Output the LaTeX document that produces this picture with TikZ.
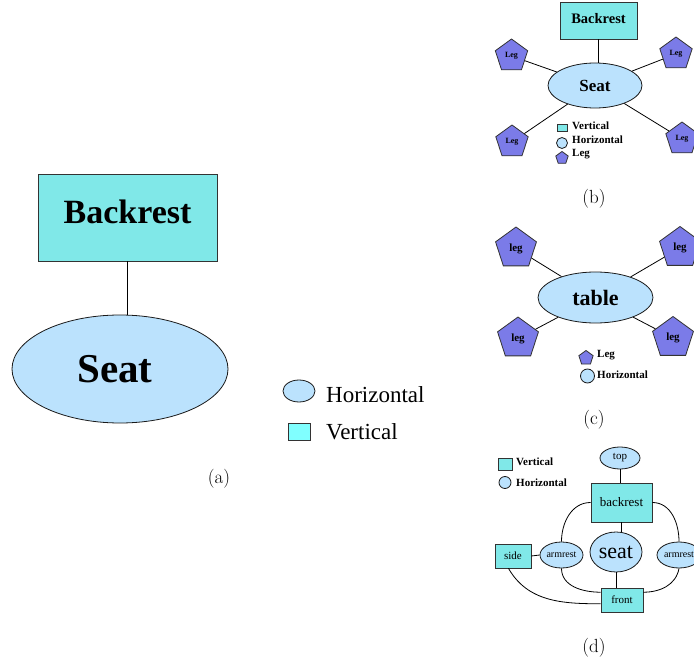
\documentclass[tikz,border=0pt]{standalone}
\usepackage{fontspec}
\newfontfamily\tms{Liberation Serif}
\usetikzlibrary{shapes.geometric}
\definecolor{vert}{HTML}{80E8E8}
\definecolor{vertleg}{HTML}{80FFFF}
\definecolor{horiz}{HTML}{BBE2FD}
\definecolor{legc}{HTML}{7B7BE8}
\tikzset{
  vbox/.style={draw=black!80, fill=vert, rectangle, inner sep=0pt, line width=0.8pt},
  hell/.style={draw=black!90, fill=horiz, ellipse, inner sep=0pt, line width=0.8pt},
  pent/.style={draw=black!80, fill=legc, regular polygon, regular polygon sides=5, inner sep=0pt, line width=0.8pt},
  conn/.style={line width=0.8pt},
  fs/.style={font=\tms\fontsize{#1}{#1}\selectfont},
  fb/.style={font=\tms\bfseries\fontsize{#1}{#1}\selectfont},
  capt/.style={font=\fontsize{19}{19}\selectfont},
  lab/.style={anchor=base west, inner sep=0pt},
}
\begin{document}
\begin{tikzpicture}[x=1pt,y=-1pt]
\useasboundingbox (0,0) rectangle (694,663);
% ---------------- (a)
\node[vbox, minimum width=179pt, minimum height=87pt, text depth=12pt, fb=34] (aback) at (127.5,217.5) {Backrest};
\node[hell, minimum width=216pt, minimum height=108pt, fb=41] (aseat) at (120,369) {Seat\hspace*{10pt}};
\draw[conn] (aback.south) -- (aback.south |- aseat.north);
\node[hell, minimum width=32pt, minimum height=22pt] (alh) at (299,391) {};
\node[lab, fs=23] (alht) at (326,402) {Horizontal};
\node[vbox, fill=vertleg, minimum width=22pt, minimum height=17pt] (alv) at (299,431.5) {};
\node[lab, fs=23] (alvt) at (326,439) {Vertical};
\node[capt] (capa) at (219,479) {(a)};
% ---------------- (b)
\node[vbox, minimum width=77pt, minimum height=37pt, text depth=5pt, fb=14.5] (bback) at (598.5,20.5) {Backrest};
\node[hell, minimum width=94pt, minimum height=45pt, fb=17] (bseat) at (595,85.5) {Seat};
\draw[conn] (bback.south) -- (bback.south |- bseat.north);
\node[pent, minimum size=34pt, fb=8] (btl) at (511.5,56) {Leg};
\node[pent, minimum size=34pt, fb=8] (btr) at (676,54) {Leg};
\node[pent, minimum size=34pt, fb=8] (bbl) at (512,142) {Leg};
\node[pent, minimum size=34pt, fb=8] (bbr) at (682,139) {Leg};
\draw[conn] (btl) -- (bseat);
\draw[conn] (btr) -- (bseat);
\draw[conn] (bbl) -- (bseat);
\draw[conn] (bbr) -- (bseat);
\node[vbox, minimum width=10pt, minimum height=7pt] (blv) at (562,127.5) {};
\node[lab, fb=11] (blvt) at (572,130) {Vertical};
\node[hell, minimum width=11pt, minimum height=11pt] (blh) at (562,143) {};
\node[lab, fb=11] (blht) at (572,144) {Horizontal};
\node[pent, minimum size=13pt] (blp) at (562,158) {};
\node[lab, fb=11] (blpt) at (572,157) {Leg};
\node[capt] (capb) at (594,199) {(b)};
% ---------------- (c)
\node[hell, minimum width=115pt, minimum height=51pt, fb=22] (ctab) at (595.5,297.5) {table};
\node[pent, minimum size=43pt, fb=11] (ctl) at (516,248.5) {leg};
\node[pent, minimum size=43pt, fb=11] (ctr) at (680,248) {leg};
\node[pent, minimum size=43pt, fb=11] (cbl) at (518,338.5) {leg};
\node[pent, minimum size=43pt, fb=11] (cbr) at (673,338) {leg};
\draw[conn] (ctl) -- (ctab);
\draw[conn] (ctr) -- (ctab);
\draw[conn] (cbl) -- (ctab);
\draw[conn] (cbr) -- (ctab);
\node[pent, minimum size=15pt] (clp) at (586,358) {};
\node[lab, fb=11] (clpt) at (597,357) {Leg};
\node[hell, minimum width=14pt, minimum height=14pt] (clh) at (587.5,376) {};
\node[lab, fb=11] (clht) at (597,378) {Horizontal};
\node[capt] (capc) at (594,420) {(c)};
% ---------------- (d)
\node[vbox, minimum width=14pt, minimum height=12pt] (dlv) at (505,464) {};
\node[lab, fb=11] (dlvt) at (516,465) {Vertical};
\node[hell, minimum width=12pt, minimum height=12pt] (dlh) at (505,482.5) {};
\node[lab, fb=11] (dlht) at (516,486) {Horizontal};
\node[hell, minimum width=40pt, minimum height=22pt, fs=11] (dtop) at (620,458) {top};
\node[vbox, minimum width=61pt, minimum height=39pt, fs=13] (dback) at (621.5,502.5) {backrest};
\node[hell, minimum width=52pt, minimum height=40pt, fs=22] (dseat) at (616,552) {seat};
\node[hell, minimum width=43pt, minimum height=26pt, fs=10] (darml) at (561.5,555) {armrest};
\node[hell, minimum width=44pt, minimum height=26pt, fs=10] (darmr) at (679,555) {armrest};
\node[vbox, minimum width=36pt, minimum height=24pt, fs=11] (dside) at (513,556) {side};
\node[vbox, minimum width=42pt, minimum height=24pt, fs=11] (dfront) at (622,600) {front};
\draw[conn] (dtop.south) -- (dtop.south |- dback.north);
\draw[conn] (dback.south) -- (dback.south |- dseat.north);
\draw[conn] (dseat.south) -- (dseat.south |- dfront.north);
\draw[conn] (dside.east) -- (darml.west);
\draw[conn] (dback.west) to[out=180,in=90] (darml.north);
\draw[conn] (dback.east) to[out=0,in=90] (darmr.north);
\draw[conn] (darml.south) to[out=270,in=180] (dfront.160);
\draw[conn] (darmr.south) to[out=260,in=0] (dfront.20);
\draw[conn] (dside.250) to[out=-60,in=180] (dfront.190);
\node[capt] (capd) at (594,648) {(d)};
\end{tikzpicture}
\end{document}
